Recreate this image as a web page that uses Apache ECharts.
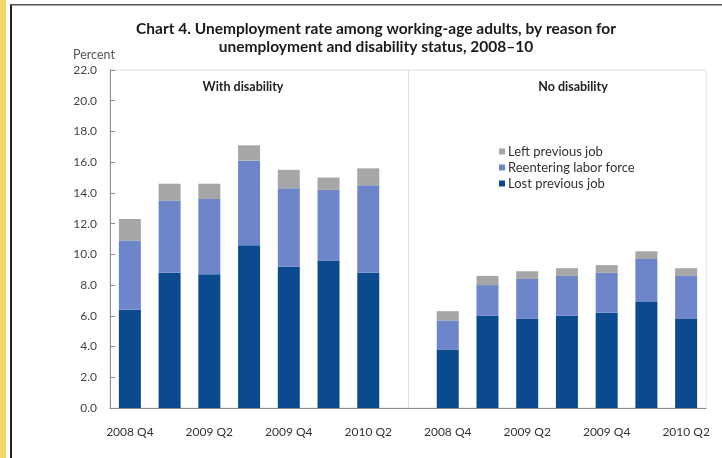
<!DOCTYPE html>
<html>
<head>
<meta charset="utf-8">
<script src="https://cdn.jsdelivr.net/npm/echarts@6/dist/echarts.min.js"></script>
<style>
html,body{margin:0;padding:0;background:#fff;}
#chart{width:722px;height:458px;}
</style>
</head>
<body>
<div id="chart"></div>
<script>
// Quarters for each panel
var quarters = ['2008 Q4','2009 Q1','2009 Q2','2009 Q3','2009 Q4','2010 Q1','2010 Q2'];
var panelNames = ['With disability','No disability'];
var seriesNames = ['Lost previous job','Reentering labor force','Left previous job'];
// With disability
var lostWith   = [6.4, 8.8, 8.7, 10.6, 9.2, 9.6, 8.8];
var reentWith  = [4.5, 4.7, 4.9, 5.5, 5.1, 4.6, 5.7];
var leftWith   = [1.4, 1.1, 1.0, 1.0, 1.2, 0.8, 1.1];
// No disability
var lostNo     = [3.8, 6.0, 5.8, 6.0, 6.2, 6.9, 5.8];
var reentNo    = [1.9, 2.0, 2.6, 2.6, 2.6, 2.8, 2.8];
var leftNo     = [0.6, 0.6, 0.5, 0.5, 0.5, 0.5, 0.5];
var yTicks = {min: 0, max: 22, interval: 2};

var FONT = 'Lato';
var colors = ['#0b4a8f', '#6d86c9', '#a6a6a6'];

// combined category axis: panel 1, a gap slot, panel 2
var categories = quarters.concat(['']).concat(quarters);
function join(a, b) { return a.concat([null]).concat(b); }
var seriesData = [join(lostWith, lostNo), join(reentWith, reentNo), join(leftWith, leftNo)];
var gapIndex = quarters.length;

var chart = echarts.init(document.getElementById('chart'), null, {renderer: 'canvas'});
var series = seriesNames.map(function (name, i) {
  var s = {
    name: name,
    type: 'bar',
    stack: 'total',
    barWidth: 22,
    data: seriesData[i],
    itemStyle: {color: colors[i]},
    emphasis: {disabled: true},
    animation: false
  };
  if (i === 0) {
    s.markLine = {
      silent: true,
      symbol: 'none',
      label: {show: false},
      lineStyle: {color: '#dcdcdc', width: 1, type: 'solid'},
      data: [{xAxis: gapIndex}],
      animation: false
    };
  }
  return s;
});

chart.setOption({
  backgroundColor: '#fff',
  animation: false,
  title: [
    {
      text: 'Chart 4. Unemployment rate among working-age adults, by reason for\nunemployment and disability status, 2008\u201310',
      left: 371, top: 15, textAlign: 'center',
      textStyle: {fontFamily: FONT, fontSize: 15.5, fontWeight: 'bold', color: '#1a1a1a', lineHeight: 18}
    },
    {
      text: panelNames[0], left: 238, top: 75, textAlign: 'center',
      textStyle: {fontFamily: FONT, fontSize: 12.5, fontWeight: 'bold', color: '#222'}
    },
    {
      text: panelNames[1], left: 568, top: 75, textAlign: 'center',
      textStyle: {fontFamily: FONT, fontSize: 12.5, fontWeight: 'bold', color: '#222'}
    },
    {
      text: 'Percent', left: 68, top: 43,
      textStyle: {fontFamily: FONT, fontSize: 12.5, fontWeight: 'normal', color: '#555'}
    }
  ],
  legend: {
    data: ['Left previous job', 'Reentering labor force', 'Lost previous job'],
    orient: 'vertical',
    left: 494, top: 140,
    itemWidth: 6, itemHeight: 6, itemGap: 3,
    icon: 'rect',
    textStyle: {fontFamily: FONT, fontSize: 13, color: '#333', padding: [0,0,0,-2]},
    selectedMode: false
  },
  grid: {
    left: 110, right: 16, top: 70, bottom: 50,
    show: true, borderColor: '#e0e0e0', borderWidth: 1
  },
  xAxis: {
    type: 'category',
    data: categories,
    axisLine: {lineStyle: {color: '#8c8c8c', width: 1}},
    axisTick: {show: false},
    axisLabel: {interval: 1, margin: 18, fontFamily: FONT, fontSize: 12, color: '#333'},
    splitLine: {show: false}
  },
  yAxis: {
    type: 'value',
    min: yTicks.min, max: yTicks.max, interval: yTicks.interval,
    axisLine: {show: true, lineStyle: {color: '#8c8c8c', width: 1}},
    axisTick: {show: true, inside: true, length: 5, lineStyle: {color: '#8c8c8c'}},
    axisLabel: {margin: 13, fontFamily: FONT, fontSize: 12, color: '#444',
      formatter: function (v) { return v.toFixed(1); }},
    splitLine: {show: false}
  },
  graphic: [
    {type: 'rect', left: 0, top: 0, shape: {width: 6, height: 458}, style: {fill: '#f2d966'}, silent: true},
    {type: 'rect', left: 10, top: 5, shape: {width: 2, height: 453}, style: {fill: '#222'}, silent: true},
    {type: 'rect', left: 10, top: 4, shape: {width: 712, height: 1.5}, style: {fill: '#555'}, silent: true}
  ],
  series: series
});
</script>
</body>
</html>
